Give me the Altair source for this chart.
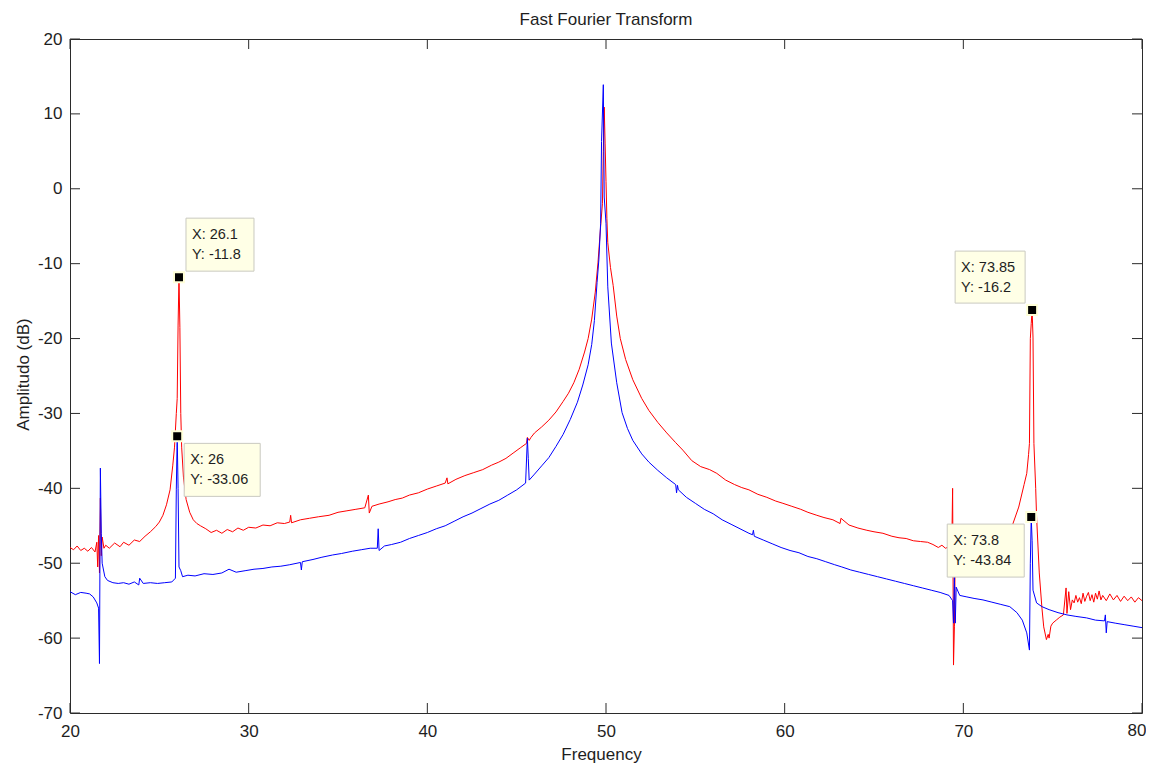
import altair as alt
import pandas as pd

# ---------------- data ----------------
red_freq = [20.0, 20.2, 20.4, 20.6, 20.8, 21.0, 21.2, 21.4, 21.5, 21.55, 21.6, 21.65, 21.7, 21.75, 21.8,
            21.9, 22.0, 22.2, 22.5, 22.8, 23.0, 23.3, 23.6, 23.9, 24.2, 24.5, 24.8, 25.0, 25.2, 25.4,
            25.6, 25.75, 25.85, 25.95, 26.0, 26.05, 26.1, 26.15, 26.2, 26.25, 26.35, 26.5, 26.7, 26.9,
            27.1, 27.3, 27.6, 27.9, 28.2, 28.5, 28.8, 29.1, 29.4, 29.7, 30.0, 30.4, 30.8, 31.2, 31.6,
            32.0, 32.3, 32.35, 32.4, 32.9, 33.4, 33.9, 34.5, 35.0, 35.5, 36.0, 36.5, 36.7, 36.75, 36.9,
            37.3, 37.8, 38.2, 38.6, 39.0, 39.5, 40.0, 40.5, 41.0, 41.1, 41.15, 41.6, 42.1, 42.6, 43.1,
            43.6, 44.0, 44.4, 44.8, 45.2, 45.55, 45.6, 45.7, 45.8, 46.0, 46.4, 46.8, 47.2, 47.6, 47.9,
            48.2, 48.5, 48.8, 49.0, 49.2, 49.4, 49.55, 49.7, 49.8, 49.85, 49.9, 49.95, 50.0, 50.05, 50.1,
            50.25, 50.4, 50.6, 50.8, 51.1, 51.5, 52.0, 52.4, 52.9, 53.4, 53.9, 54.3, 54.8, 55.3, 55.8,
            56.2, 56.7, 57.2, 57.6, 58.0, 58.5, 59.0, 59.5, 59.9, 60.4, 60.9, 61.3, 61.8, 62.2, 62.7,
            63.1, 63.15, 63.6, 64.1, 64.6, 65.0, 65.5, 66.0, 66.4, 66.8, 67.2, 67.6, 68.0, 68.3, 68.6,
            68.8, 69.0, 69.2, 69.35, 69.4, 69.45, 69.5, 69.55, 69.7, 70.0, 70.5, 71.0, 71.5, 72.0, 72.4,
            72.75, 73.1, 73.4, 73.55, 73.65, 73.7, 73.75, 73.8, 73.85, 73.9, 73.95, 74.05, 74.1, 74.25,
            74.4, 74.5, 74.65, 74.75, 74.8, 74.9, 75.0, 75.2, 75.4, 75.6, 75.75, 75.8, 75.9, 76.0, 76.1,
            76.2, 76.3, 76.4, 76.5, 76.6, 76.7, 76.8, 76.9, 77.0, 77.1, 77.2, 77.3, 77.4, 77.5, 77.6,
            77.7, 77.8, 78.0, 78.2, 78.4, 78.6, 78.8, 79.0, 79.2, 79.4, 79.6, 79.8, 80.0]
red_db = [-47.9, -48.2, -47.7, -48.3, -48.0, -48.4, -47.9, -48.5, -47.2, -50.5, -46.3, -51.3, -41.3, -49.0, -46.5,
          -48.0, -47.6, -48.0, -47.3, -47.8, -47.2, -47.6, -46.9, -47.1, -46.4, -45.8, -45.1, -44.5, -43.6, -42.2,
          -40.2, -37.0, -34.5, -30.0, -28.0, -18.2, -11.8, -18.5, -30.0, -34.5, -38.5, -41.5, -43.2, -44.2,
          -44.7, -45.0, -45.4, -45.9, -45.6, -46.0, -45.5, -45.8, -45.3, -45.6, -45.2, -45.3, -44.9, -45.0, -44.6,
          -44.7, -44.5, -43.6, -44.6, -44.2, -44.0, -43.8, -43.6, -43.2, -43.0, -42.8, -42.6, -40.9, -43.3, -42.4,
          -42.1, -41.8, -41.5, -41.3, -40.9, -40.6, -40.1, -39.7, -39.3, -38.6, -39.4, -38.8, -38.3, -37.9, -37.5,
          -36.9, -36.5, -36.0, -35.3, -34.6, -34.0, -33.2, -33.6, -33.2, -32.6, -31.8, -30.9, -29.8, -28.4, -27.3,
          -25.9, -24.1, -21.8, -20.0, -17.4, -13.8, -9.9, -5.0, -2.0, 5.0, 10.9, 6.1, 1.0, -4.0, -7.2,
          -10.5, -12.9, -17.0, -20.0, -22.8, -25.5, -28.0, -29.6, -31.2, -32.6, -33.9, -34.9, -36.3, -37.1, -37.5,
          -38.0, -38.9, -39.5, -39.9, -40.2, -40.8, -41.2, -41.7, -42.0, -42.4, -42.8, -43.2, -43.6, -43.9, -44.2,
          -44.7, -44.0, -44.9, -45.3, -45.6, -45.8, -46.0, -46.4, -46.6, -46.7, -47.0, -47.1, -47.2, -47.5, -47.9,
          -47.6, -48.0, -47.8, -48.4, -40.0, -63.6, -58.5, -48.0, -48.3, -48.5, -48.6, -48.4, -48.0, -47.2, -46.2,
          -44.9, -42.5, -39.5, -38.0, -35.5, -34.0, -20.0, -18.0, -16.2, -19.8, -34.0, -40.0, -43.8, -51.3,
          -56.0, -58.5, -60.2, -59.5, -60.0, -58.4, -58.0, -57.6, -57.2, -56.9, -53.3, -56.7, -53.8, -56.2, -54.9,
          -55.3, -54.3, -55.2, -54.6, -55.4, -54.0, -55.1, -54.4, -53.9, -55.0, -54.2, -55.2, -54.0, -54.8, -53.7,
          -54.9, -54.3, -55.0, -54.1, -54.9, -54.3, -55.1, -54.4, -55.0, -54.5, -55.2, -54.6, -55.0]

blue_freq = [20.0, 20.3, 20.6, 20.9, 21.1, 21.3, 21.5, 21.6, 21.65, 21.7, 21.75, 21.8, 21.95, 22.1, 22.4,
             22.7, 23.0, 23.3, 23.6, 23.85, 23.9, 24.1, 24.5, 24.9, 25.3, 25.7, 25.9, 25.95, 26.0, 26.05,
             26.1, 26.2, 26.3, 26.6, 27.0, 27.5, 28.0, 28.5, 28.9, 29.3, 29.8, 30.3, 30.8, 31.3, 31.8,
             32.3, 32.9, 32.95, 33.0, 33.6, 34.1, 34.7, 35.2, 35.8, 36.3, 36.8, 37.2, 37.25, 37.3, 37.6,
             38.0, 38.5, 39.0, 39.5, 40.0, 40.5, 41.0, 41.5, 42.0, 42.5, 43.0, 43.5, 44.0, 44.5, 45.0,
             45.5, 45.6, 45.65, 45.7, 46.0, 46.4, 46.8, 47.2, 47.6, 48.0, 48.4, 48.7, 49.0, 49.2, 49.35,
             49.5, 49.6, 49.7, 49.75, 49.85, 49.9, 50.0, 50.1, 50.3, 50.6, 50.9, 51.2, 51.5, 52.0, 52.4,
             52.9, 53.4, 53.9, 53.95, 54.0, 54.05, 54.5, 55.0, 55.5, 56.0, 56.5, 57.0, 57.5, 58.0, 58.2,
             58.25, 58.3, 58.8, 59.3, 59.8, 60.3, 60.8, 61.3, 61.8, 62.3, 62.8, 63.2, 63.7, 64.2, 64.7,
             65.2, 65.7, 66.2, 66.7, 67.2, 67.7, 68.2, 68.7, 69.2, 69.4, 69.45, 69.5, 69.55, 69.6, 69.8,
             70.2, 70.6, 71.1, 71.6, 72.1, 72.6, 73.0, 73.3, 73.55, 73.7, 73.75, 73.8, 73.85, 73.9, 74.1,
             74.4, 74.8, 75.3, 75.8, 76.3, 76.9, 77.4, 77.9, 77.95, 78.0, 78.05, 78.5, 79.0, 79.5, 80.0]
blue_db = [-53.8, -54.2, -53.9, -54.0, -54.1, -54.5, -55.3, -56.0, -63.4, -37.3, -46.0, -50.0, -51.8, -52.3, -52.6,
           -52.7, -52.6, -52.8, -52.5, -52.9, -52.0, -52.7, -52.6, -52.7, -52.6, -52.5, -52.0, -40.2, -33.06, -40.0,
           -50.5, -51.0, -51.8, -51.6, -51.7, -51.4, -51.5, -51.3, -50.8, -51.2, -51.0, -50.8, -50.7, -50.5, -50.4,
           -50.2, -49.9, -50.9, -49.8, -49.5, -49.2, -48.9, -48.7, -48.4, -48.2, -48.0, -48.0, -45.4, -48.3, -47.7,
           -47.5, -47.2, -46.7, -46.3, -45.9, -45.4, -45.0, -44.4, -43.8, -43.3, -42.7, -42.1, -41.6, -40.9, -40.2,
           -39.3, -33.3, -36.0, -38.9, -38.1, -37.0, -35.9, -34.4, -32.8, -30.8, -28.5, -26.2, -23.5, -20.8, -17.6,
           -12.5, -9.5, -4.6, 6.3, 13.9, -1.1, -4.6, -13.1, -20.6, -25.9, -29.9, -32.0, -33.6, -35.4, -36.5,
           -37.6, -38.6, -39.5, -40.6, -39.6, -40.2, -41.2, -42.0, -42.8, -43.4, -44.2, -44.8, -45.4, -46.0, -46.2,
           -45.6, -46.4, -46.9, -47.4, -47.9, -48.3, -48.6, -49.1, -49.4, -49.8, -50.2, -50.5, -50.9, -51.2, -51.5,
           -51.8, -52.1, -52.4, -52.7, -53.0, -53.3, -53.6, -53.9, -54.3, -55.0, -58.0, -51.8, -58.0, -53.2, -54.3,
           -54.5, -54.7, -54.9, -55.2, -55.5, -55.8, -56.6, -57.6, -59.3, -61.6, -50.0, -43.84, -47.0, -53.6, -55.3,
           -55.8, -56.2, -56.6, -56.9, -57.1, -57.3, -57.6, -57.7, -56.9, -59.3, -57.8, -58.0, -58.2, -58.4, -58.6]

tip_freq = [26.1, 26.0, 73.85, 73.8]
tip_db = [-11.8, -33.06, -16.2, -43.84]
tip_line1 = ["X: 26.1", "X: 26", "X: 73.85", "X: 73.8"]
tip_line2 = ["Y: -11.8", "Y: -33.06", "Y: -16.2", "Y: -43.84"]

x_ticks = [20, 30, 40, 50, 60, 70, 80]
y_ticks = [-70, -60, -50, -40, -30, -20, -10, 0, 10, 20]

# ---------------- layout / style ----------------
W, H = 1072, 674
FONT = "Liberation Sans"
TXT = "#1e1e1e"
AX = "#2b2b2b"
TICK_LEN = 10
X_LABEL_PAD = 23

red_df = pd.DataFrame({"f": red_freq, "db": red_db})
blue_df = pd.DataFrame({"f": blue_freq, "db": blue_db})
tips_df = pd.DataFrame({"f": tip_freq, "db": tip_db, "l1": tip_line1, "l2": tip_line2, "i": range(4)})
xt_df = pd.DataFrame({"f": x_ticks, "lab": [str(v) for v in x_ticks]})
yt_df = pd.DataFrame({"db": y_ticks})
x_max = max(x_ticks)

xs = alt.Scale(domain=[20, 80], nice=False, zero=False)
ys = alt.Scale(domain=[-70, 20], nice=False, zero=False)

# the last x label is drawn by a text layer (nudged so it is not cut by the page edge)
x_axis = alt.Axis(values=x_ticks, title="Frequency", grid=False, domain=False, ticks=False, tickSize=0,
                  labelPadding=X_LABEL_PAD, labelBaseline="alphabetic", labelFlush=False, labelOverlap=False,
                  labelExpr=f"datum.value == {x_max} ? '' : '' + datum.value",
                  labelFont=FONT, labelFontSize=17, labelColor=TXT,
                  titleFont=FONT, titleFontSize=17, titleFontWeight="normal", titleColor=TXT,
                  titleX=531, titleY=46, titleBaseline="alphabetic", titleAlign="center")
y_axis = alt.Axis(values=y_ticks, title="Amplitudo (dB)", grid=False, domain=False, ticks=False, tickSize=0,
                  labelPadding=8, labelFlush=False, labelOverlap=False,
                  labelExpr="'' + datum.value",
                  labelFont=FONT, labelFontSize=17, labelColor=TXT,
                  titleFont=FONT, titleFontSize=17, titleFontWeight="normal", titleColor=TXT,
                  titleX=-42, titleY=335, titleAngle=270, titleBaseline="alphabetic", titleAlign="center")


def X(field="f"):
    return alt.X(f"{field}:Q", scale=xs, axis=x_axis, title="Frequency")


def Y(field="db"):
    return alt.Y(f"{field}:Q", scale=ys, axis=y_axis, title="Amplitudo (dB)")


red = alt.Chart(red_df).mark_line(color="#ff0000", strokeWidth=1, clip=True).encode(
    x=X(), y=Y(), order="f:Q")
blue = alt.Chart(blue_df).mark_line(color="#0000ff", strokeWidth=1, clip=True).encode(
    x=X(), y=Y(), order="f:Q")

# inward ticks on all four sides
xt_bottom = alt.Chart(xt_df).mark_rule(color=AX, strokeWidth=1).encode(
    x=X(), y=alt.value(H), y2=alt.value(H - TICK_LEN))
xt_top = alt.Chart(xt_df).mark_rule(color=AX, strokeWidth=1).encode(
    x=X(), y=alt.value(0), y2=alt.value(TICK_LEN))
yt_left = alt.Chart(yt_df).mark_rule(color=AX, strokeWidth=1).encode(
    y=Y(), x=alt.value(0), x2=alt.value(TICK_LEN))
yt_right = alt.Chart(yt_df).mark_rule(color=AX, strokeWidth=1).encode(
    y=Y(), x=alt.value(W), x2=alt.value(W - TICK_LEN))

last_label = alt.Chart(xt_df).transform_filter(alt.datum.f == x_max).mark_text(
    align="center", baseline="alphabetic", font=FONT, fontSize=17, color=TXT, dx=-5).encode(
    x=X(), y=alt.value(H + X_LABEL_PAD), text="lab:N")

# data-tip boxes: (left, top, width, height) relative to the marker, in pixels
box_geom = [(7, -59, 68, 53), (7, 7, 76, 53), (-77, -59, 70, 52), (-84, 7, 77, 53)]
tip_layers = []
for i, (bx, by, bw, bh) in enumerate(box_geom):
    src = alt.Chart(tips_df).transform_filter(alt.datum.i == i)
    box = src.mark_rect(fill="#ffffe6", stroke="#c9c9c0", strokeWidth=1,
                        xOffset=bx, x2Offset=bx + bw, yOffset=by, y2Offset=by + bh).encode(
        x=X(), y=Y(), x2=alt.X2("f"), y2=alt.Y2("db"))
    t1 = src.mark_text(align="left", baseline="middle", font=FONT, fontSize=14.5, color=TXT,
                       dx=bx + 6, dy=by + 17).encode(x=X(), y=Y(), text="l1:N")
    t2 = src.mark_text(align="left", baseline="middle", font=FONT, fontSize=14.5, color=TXT,
                       dx=bx + 6, dy=by + 37).encode(x=X(), y=Y(), text="l2:N")
    tip_layers += [box, t1, t2]

markers = alt.Chart(tips_df).mark_square(size=100, filled=True, color="black", stroke="#ffffd8",
                                         strokeWidth=2, opacity=1).encode(x=X(), y=Y())

chart = alt.layer(red, blue, xt_bottom, xt_top, yt_left, yt_right, last_label, *tip_layers, markers).properties(
    width=W, height=H,
    title=alt.TitleParams("Fast Fourier Transform", font=FONT, fontSize=17, fontWeight="normal",
                          color=TXT, anchor="middle", offset=1.5),
    autosize=alt.AutoSizeParams(type="none"),
    padding={"left": 62, "top": 31, "right": 4, "bottom": 50},
).configure(background="white").configure_view(stroke=AX, strokeWidth=1)

chart.save("out.html", embed_options={"renderer": "svg", "actions": False})
